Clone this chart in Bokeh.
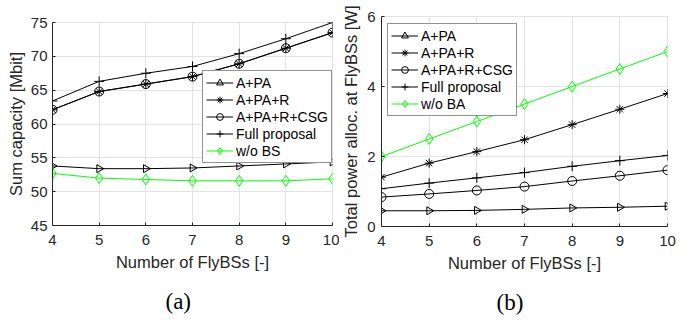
import math
from bokeh.plotting import figure
from bokeh.layouts import row, column
from bokeh.models import Range1d, FixedTicker, Legend, LegendItem, Title
from bokeh.embed import file_html
from bokeh.resources import INLINE

# ---- data ----
n_flybs = [4, 5, 6, 7, 8, 9, 10]

# (a) Sum capacity [Mbit]
cap_a_pa = [53.8, 53.4, 53.4, 53.5, 53.8, 54.1, 54.4]
cap_a_pa_r = [62.1, 64.8, 65.9, 67.0, 68.9, 71.2, 73.5]
cap_a_pa_r_csg = [62.1, 64.8, 65.9, 67.0, 68.9, 71.2, 73.5]
cap_full = [63.4, 66.3, 67.5, 68.5, 70.4, 72.6, 75.0]
cap_wo_bs = [52.7, 52.0, 51.8, 51.6, 51.6, 51.6, 51.9]

# (b) Total power alloc. at FlyBSs [W]
pow_a_pa = [0.45, 0.45, 0.46, 0.49, 0.53, 0.55, 0.58]
pow_a_pa_r = [1.41, 1.81, 2.14, 2.48, 2.91, 3.35, 3.80]
pow_a_pa_r_csg = [0.84, 0.93, 1.03, 1.14, 1.30, 1.45, 1.61]
pow_full = [1.08, 1.24, 1.39, 1.54, 1.72, 1.88, 2.03]
pow_wo_ba = [2.0, 2.5, 3.0, 3.5, 4.0, 4.5, 5.0]

x_ticks = [4, 5, 6, 7, 8, 9, 10]
cap_ticks = [45, 50, 55, 60, 65, 70, 75]
pow_ticks = [0, 2, 4, 6]

labels_a = ["A+PA", "A+PA+R", "A+PA+R+CSG", "Full proposal", "w/o BS"]
labels_b = ["A+PA", "A+PA+R", "A+PA+R+CSG", "Full proposal", "w/o BA"]

AX = "#262626"
GRID = "#e3e3e3"
GREEN = "#00ff00"
FONT = "Liberation Sans"


def make_fig(fw, fh, mb_left, mb_right, mb_top, mb_bottom, y0, y1, yticks, ylabel,
             ytick_standoff, ylab_standoff):
    p = figure(frame_width=fw, frame_height=fh, output_backend="svg", toolbar_location=None,
               x_range=Range1d(4, 10), y_range=Range1d(y0, y1), min_border=0,
               min_border_left=mb_left, min_border_right=mb_right,
               min_border_top=mb_top, min_border_bottom=mb_bottom)
    p.outline_line_color = GRID
    p.background_fill_color = "white"
    p.border_fill_color = "white"
    p.xaxis.ticker = FixedTicker(ticks=x_ticks)
    p.yaxis.ticker = FixedTicker(ticks=yticks)
    for ax in (p.xaxis[0], p.yaxis[0]):
        ax.axis_line_color = AX
        ax.axis_line_width = 1
        ax.major_tick_line_color = AX
        ax.major_tick_in = 3
        ax.major_tick_out = 0
        ax.minor_tick_line_color = None
        ax.major_label_text_font = FONT
        ax.major_label_text_font_size = "15px"
        ax.major_label_text_color = AX
        ax.axis_label_text_font = FONT
        ax.axis_label_text_font_size = "16.5px"
        ax.axis_label_text_font_style = "normal"
        ax.axis_label_text_color = AX
    p.xaxis.axis_label = "Number of FlyBSs [-]"
    p.xaxis.major_label_standoff = 9
    p.xaxis.axis_label_standoff = 5
    p.yaxis.axis_label = ylabel
    p.yaxis.major_label_standoff = ytick_standoff
    p.yaxis.axis_label_standoff = ylab_standoff
    p.xgrid.grid_line_color = GRID
    p.ygrid.grid_line_color = GRID
    p.xgrid.ticker = FixedTicker(ticks=x_ticks)
    p.ygrid.ticker = FixedTicker(ticks=yticks)
    return p


def add_series(p, series, labels, loc):
    items = []
    specs = [
        dict(marker="triangle", angle=-math.pi / 2, size=8, color="black"),
        dict(marker="asterisk", angle=0.0, size=9, color="black"),
        dict(marker="circle", angle=0.0, size=9, color="black"),
        dict(marker="cross", angle=0.0, size=10, color="black"),
        dict(marker="diamond", angle=0.0, size=11, color=GREEN),
    ]
    for ys, lab, sp in zip(series, labels, specs):
        l = p.line(n_flybs, ys, line_color=sp["color"], line_width=1)
        s = p.scatter(n_flybs, ys, marker=sp["marker"], angle=[sp["angle"]] * len(ys),
                      size=sp["size"], line_color=sp["color"], fill_color=None, line_width=1)
        items.append(LegendItem(label=lab, renderers=[l, s]))
    leg = Legend(items=items, location=loc)
    leg.label_text_font = FONT
    leg.label_text_font_size = "14px"
    leg.label_text_color = "black"
    leg.border_line_color = AX
    leg.border_line_width = 1
    leg.background_fill_color = "white"
    leg.background_fill_alpha = 1
    leg.padding = 3
    leg.spacing = 0
    leg.margin = 0
    leg.label_height = 17
    leg.glyph_height = 17
    leg.glyph_width = 27
    leg.label_standoff = 3
    p.add_layout(leg, "center")


p1 = make_fig(280, 203, 52, 7, 22, 87, 45, 75, cap_ticks, "Sum capacity [Mbit]", 5, 3)
add_series(p1, [cap_a_pa, cap_a_pa_r, cap_a_pa_r_csg, cap_full, cap_wo_bs], labels_a, (150, 62))
p1.add_layout(Title(text="(a)", align="left", text_font="Liberation Serif", standoff=27,
                    offset=113, text_font_size="23px", text_font_style="normal",
                    text_color="black"), "below")

p2 = make_fig(286, 210, 40, 20, 16, 86, 0, 6, pow_ticks, "Total power alloc. at FlyBSs [W]", 6, 4)
add_series(p2, [pow_a_pa, pow_a_pa_r, pow_a_pa_r_csg, pow_full, pow_wo_ba], labels_b, (6, 110))
p2.add_layout(Title(text="(b)", align="left", text_font="Liberation Serif", standoff=27,
                    offset=115, text_font_size="23px", text_font_style="normal",
                    text_color="black"), "below")

layout = row(column(p1), column(p2))
open("out.html", "w").write(file_html(layout, INLINE))
